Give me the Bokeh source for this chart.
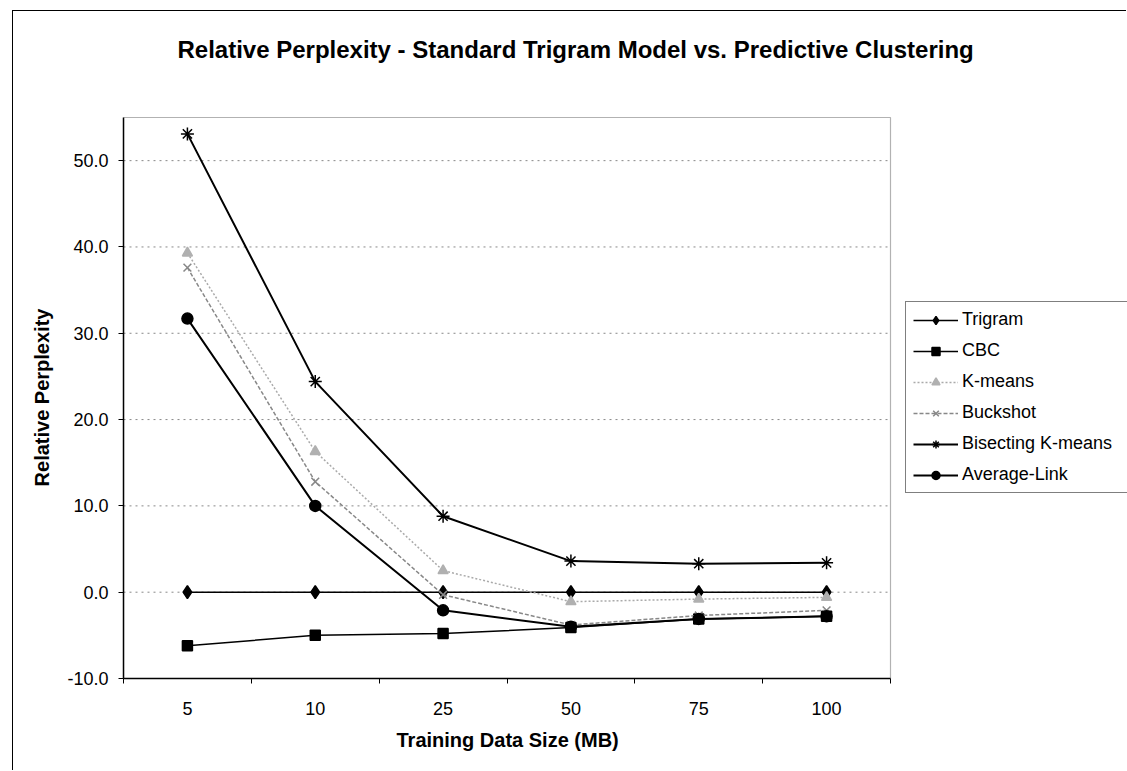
from bokeh.plotting import figure
from bokeh.models import FixedTicker, PrintfTickFormatter, Legend, LegendItem, BoxAnnotation, Title
from bokeh.embed import file_html
from bokeh.resources import INLINE

sizes = ["5", "10", "25", "50", "75", "100"]
trigram = [0.0, 0.0, 0.0, 0.0, 0.0, 0.0]
cbc = [-6.2, -5.0, -4.8, -4.1, -3.1, -2.8]
kmeans = [39.3, 16.3, 2.5, -1.1, -0.8, -0.6]
buckshot = [37.6, 12.8, -0.3, -3.8, -2.7, -2.1]
bisecting = [53.1, 24.4, 8.8, 3.6, 3.3, 3.4]
avglink = [31.7, 10.0, -2.1, -4.0, -3.1, -2.8]
y_ticks = [-10, 0, 10, 20, 30, 40, 50]
y_min, y_max = -10, 55

FONT = "Liberation Sans"
n = len(sizes)
xs = [i + 0.5 for i in range(n)]

# layout (canvas px): canvas sits 13px right / 11px down of the page corner
W, H = 1114, 760
LEFT, TOP, BOTTOM = 110, 105, 93
PLOT_W = 767                      # pixel width of the category area
frame_w = W - LEFT
x_end = n * frame_w / PLOT_W      # frame extends to the right so legend is not clipped
y_end = y_max + (y_max - y_min) / (H - TOP - BOTTOM - 1)

p = figure(width=W, height=H, output_backend="svg", toolbar_location=None,
           x_range=(0, x_end), y_range=(y_min, y_end),
           min_border_left=LEFT, min_border_right=0, min_border_top=TOP, min_border_bottom=BOTTOM,
           styles={"border-left": "1px solid black", "border-top": "1px solid black",
                   "margin-left": "12px", "margin-top": "10px"})
p.background_fill_color = "white"
p.border_fill_color = "white"
p.outline_line_color = None

# Title (extra blank lines keep it high above the plot area)
p.title.text = "Relative Perplexity - Standard Trigram Model vs. Predictive Clustering\n \n "
p.title.text_font = FONT
p.title.text_font_size = "24px"
p.title.text_font_style = "bold"
p.title.text_color = "black"
p.title.align = "left"
p.title.offset = 54
p.title.standoff = 0

# X axis
xa = p.xaxis[0]
xa.bounds = (0, n)
xa.ticker = FixedTicker(ticks=xs, minor_ticks=list(range(n + 1)))
xa.major_label_overrides = {x: s for x, s in zip(xs, sizes)}
xa.major_tick_out = 0
xa.major_tick_in = 0
xa.minor_tick_out = 5
xa.minor_tick_in = 0
xa.minor_tick_line_color = "black"
xa.axis_line_color = "black"
xa.axis_line_width = 1.5
xa.major_label_standoff = 18
xa.major_label_text_font = FONT
xa.major_label_text_font_size = "18px"
xa.major_label_text_color = "black"

# x-axis caption, centred under the category area (not the whole frame)
xlab = Title(text="Training Data Size (MB)", align="left", offset=273,
             vertical_align="top", standoff=22,
             text_font=FONT, text_font_size="20px", text_font_style="bold", text_color="black")
p.add_layout(xlab, "below")

# Y axis
ya = p.yaxis[0]
ya.bounds = (y_min, y_max)
ya.ticker = FixedTicker(ticks=y_ticks, minor_ticks=[])
ya.formatter = PrintfTickFormatter(format="%.1f")
ya.major_tick_out = 5
ya.major_tick_in = 0
ya.major_tick_line_color = "black"
ya.axis_line_color = "black"
ya.axis_line_width = 1.5
ya.major_label_standoff = 10
ya.major_label_text_font = FONT
ya.major_label_text_font_size = "18px"
ya.major_label_text_color = "black"
ya.axis_label = "Relative Perplexity"
ya.axis_label_text_font = FONT
ya.axis_label_text_font_size = "20px"
ya.axis_label_text_font_style = "bold"
ya.axis_label_text_color = "black"
ya.axis_label_standoff = 11

p.xgrid.grid_line_color = None
p.ygrid.grid_line_color = None

# dotted horizontal gridlines, only across the plot area
g_ticks = [t for t in y_ticks if t > y_min]
p.segment(x0=[0] * len(g_ticks), x1=[n] * len(g_ticks), y0=g_ticks, y1=g_ticks,
          line_color="#888888", line_dash="2 4", line_width=1)

# plot-area border
p.add_layout(BoxAnnotation(left=0, right=n, bottom=y_min, top=y_max,
                           fill_alpha=0, line_color="black", line_width=1.2, level="underlay"))

items = []

def series(label, ys, line_color, line_dash, lw, marker, mcolor, msize):
    r1 = p.line(xs, ys, line_color=line_color, line_dash=line_dash, line_width=lw)
    r2 = p.scatter(xs, ys, marker=marker, size=msize, line_color=mcolor,
                   fill_color=mcolor, line_width=1.5)
    items.append(LegendItem(label=label, renderers=[r1, r2]))

series("Trigram", trigram, "black", "solid", 1.5, "diamond", "black", 13)
series("CBC", cbc, "black", "solid", 1.5, "square", "black", 10)
series("K-means", kmeans, "#aaaaaa", "2 2", 1.5, "triangle", "#b0b0b0", 10)
series("Buckshot", buckshot, "#888888", "4 2", 1.5, "x", "#888888", 11)
series("Bisecting K-means", bisecting, "black", "solid", 2, "asterisk", "black", 13)
series("Average-Link", avglink, "black", "solid", 2, "circle", "black", 11)

legend = Legend(items=items, location=(782, 185), orientation="vertical")
legend.border_line_color = "black"
legend.border_line_width = 1
legend.background_fill_color = "white"
legend.background_fill_alpha = 1
legend.padding = 7
legend.spacing = 10
legend.margin = 0
legend.glyph_width = 45
legend.glyph_height = 20
legend.label_height = 20
legend.label_width = 260
legend.label_standoff = 4
legend.label_text_font = FONT
legend.label_text_font_size = "18px"
legend.label_text_color = "black"
p.add_layout(legend, "center")

open("out.html", "w").write(file_html(p, INLINE))
